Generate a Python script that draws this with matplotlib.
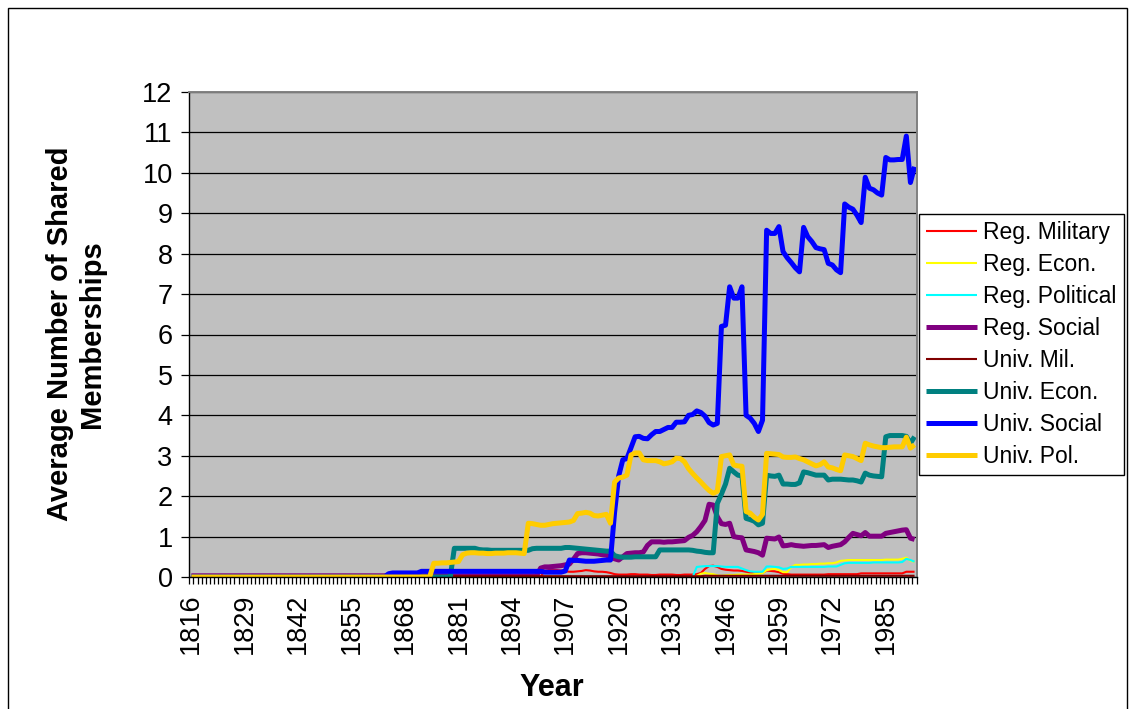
import numpy as np
import matplotlib
matplotlib.use("Agg")
import matplotlib.pyplot as plt
from matplotlib.patches import Rectangle
from matplotlib.ticker import FixedLocator, NullFormatter

plt.rcParams['font.family'] = ['Liberation Sans', 'DejaVu Sans']

# ---- data -------------------------------------------------------------
years = list(range(1816, 1993))
label_years = list(range(1816, 1993, 13))

reg_military = ([0.01] * 86
                + [0.15, 0.17, 0.17, 0.17, 0.16, 0.14, 0.13, 0.13, 0.14, 0.15,
                   0.17, 0.16, 0.14, 0.13, 0.13, 0.12, 0.10, 0.07, 0.06]
                + [0.06, 0.06, 0.07, 0.07, 0.06, 0.06, 0.06, 0.05, 0.05, 0.06,
                   0.06, 0.06, 0.06, 0.05, 0.05, 0.06, 0.06, 0.06, 0.07]
                + [0.10, 0.20, 0.27, 0.28, 0.25, 0.20, 0.18, 0.17, 0.16, 0.16,
                   0.15, 0.13, 0.11, 0.09, 0.10, 0.10, 0.16, 0.15, 0.14, 0.12,
                   0.08, 0.07]
                + [0.06] * 9 + [0.07] * 8 + [0.09] * 11 + [0.13, 0.13, 0.13])

reg_econ = ([0.0] * 123
            + [0.03, 0.08, 0.10, 0.08, 0.07, 0.04, 0.03, 0.04, 0.05, 0.05,
               0.06, 0.06, 0.06, 0.06, 0.07, 0.08, 0.09]
            + [0.17, 0.19, 0.20, 0.17, 0.12, 0.12, 0.25, 0.30, 0.30, 0.31,
               0.31, 0.32, 0.32, 0.33, 0.33, 0.34, 0.34]
            + [0.36, 0.40, 0.41, 0.42, 0.42, 0.42, 0.42, 0.42, 0.42, 0.42,
               0.42, 0.42, 0.43, 0.43, 0.43, 0.43, 0.45, 0.48, 0.40, 0.38])

reg_political = ([0.0] * 123
                 + [0.25, 0.26, 0.27, 0.27, 0.27, 0.27, 0.26, 0.25, 0.25, 0.25,
                    0.25, 0.21, 0.17, 0.14, 0.13, 0.13, 0.13]
                 + [0.26, 0.26, 0.25, 0.24, 0.20, 0.21, 0.25, 0.25, 0.25, 0.25,
                    0.25, 0.25, 0.25, 0.25, 0.25, 0.26, 0.26]
                 + [0.26, 0.30, 0.34, 0.35, 0.35, 0.35, 0.35, 0.35, 0.35, 0.36,
                    0.36, 0.36, 0.36, 0.36, 0.36, 0.36, 0.37, 0.45, 0.42, 0.38])

reg_social = ([0.03] * 85
              + [0.22, 0.25, 0.25, 0.26, 0.27, 0.28, 0.30, 0.32]
              + [0.44, 0.58, 0.60, 0.60, 0.59, 0.58, 0.57, 0.55, 0.54, 0.50,
                 0.45, 0.42]
              + [0.50, 0.58, 0.59, 0.60, 0.60, 0.62, 0.78, 0.87, 0.87, 0.87,
                 0.86, 0.87, 0.87, 0.88, 0.89, 0.90]
              + [0.98, 1.03, 1.12, 1.25, 1.40, 1.80, 1.78, 1.49, 1.32, 1.30,
                 1.33, 1.00, 0.98, 0.97]
              + [0.67, 0.65, 0.63, 0.60, 0.54]
              + [0.96, 0.95, 0.94, 0.99, 0.77, 0.78, 0.80, 0.78, 0.77, 0.76,
                 0.77, 0.78, 0.78, 0.79, 0.80]
              + [0.73, 0.76, 0.78, 0.80, 0.87, 0.98, 1.08, 1.05, 1.02, 1.10,
                 1.01, 1.01, 1.01, 1.01, 1.08, 1.10, 1.12, 1.14, 1.16, 1.17,
                 0.96, 0.93])

univ_mil = [0.0] * 64 + [0.02] * 61 + [0.03] * 52

univ_econ = ([0.0] * 64
             + [0.71] * 6
             + [0.68, 0.67, 0.67, 0.66, 0.66, 0.66, 0.66, 0.66, 0.66, 0.66,
                0.66, 0.66]
             + [0.66, 0.70]
             + [0.71] * 7
             + [0.73, 0.73, 0.72, 0.71, 0.70, 0.69, 0.68, 0.67, 0.66, 0.65,
                0.64, 0.64]
             + [0.53, 0.50, 0.49, 0.49, 0.49, 0.50, 0.50, 0.50, 0.50, 0.50,
                0.50]
             + [0.67, 0.67, 0.67, 0.67, 0.67, 0.67, 0.67, 0.67, 0.66, 0.64,
                0.63, 0.61, 0.60, 0.60]
             + [1.82, 2.05, 2.30, 2.69, 2.60, 2.52, 2.50]
             + [1.45, 1.42, 1.38, 1.29, 1.33]
             + [2.52, 2.50, 2.49, 2.52]
             + [2.30, 2.30, 2.29, 2.29, 2.33]
             + [2.60, 2.58, 2.55, 2.52, 2.52, 2.52]
             + [2.40, 2.42, 2.42, 2.42, 2.41, 2.40, 2.40, 2.38, 2.35]
             + [2.57, 2.52, 2.50, 2.49, 2.48]
             + [3.47, 3.50, 3.50, 3.50, 3.50, 3.48, 3.31, 3.47])

univ_social = ([0.0] * 48
               + [0.08]
               + [0.10] * 7
               + [0.14] * 30
               + [0.12] * 5
               + [0.15]
               + [0.42, 0.41, 0.41, 0.40, 0.39, 0.39, 0.39, 0.40, 0.41, 0.42,
                  0.42]
               + [1.60, 2.50, 2.90, 2.93, 3.20, 3.47, 3.48, 3.43, 3.42, 3.52,
                  3.60, 3.60, 3.65, 3.70, 3.70, 3.83, 3.83, 3.84, 4.00, 4.02,
                  4.11, 4.07, 3.98, 3.82, 3.76, 3.80]
               + [6.20, 6.23, 7.18, 6.90, 6.90, 7.18, 4.00, 3.93, 3.80, 3.60,
                  3.88]
               + [8.58, 8.50, 8.50, 8.67, 8.05, 7.90, 7.78, 7.65, 7.55]
               + [8.65, 8.42, 8.30, 8.15, 8.12, 8.10, 7.76, 7.72, 7.60, 7.53]
               + [9.23, 9.15, 9.10, 8.95, 8.77]
               + [9.89, 9.62, 9.58, 9.50, 9.45]
               + [10.38, 10.32, 10.32, 10.33, 10.33]
               + [10.91, 9.76, 10.15])

univ_pol = ([0.0] * 59
            + [0.34, 0.34, 0.35, 0.35, 0.36, 0.37, 0.38]
            + [0.55, 0.59]
            + [0.60, 0.60, 0.59, 0.59, 0.58, 0.58, 0.59, 0.59, 0.59, 0.60,
               0.60, 0.60, 0.59, 0.58]
            + [1.33, 1.32, 1.30, 1.28, 1.28, 1.30, 1.32, 1.33, 1.34, 1.35,
               1.36, 1.40, 1.57, 1.58, 1.60, 1.58, 1.52, 1.51, 1.53, 1.55,
               1.33]
            + [2.35, 2.45, 2.47, 2.52, 3.02, 3.07, 3.07, 2.90, 2.88, 2.88,
               2.88, 2.85, 2.80, 2.82, 2.85, 2.94, 2.93, 2.85, 2.68, 2.56,
               2.45, 2.35, 2.24, 2.14, 2.07, 2.12]
            + [2.98, 3.00, 3.02, 2.77, 2.75, 2.74, 1.62, 1.58, 1.48, 1.41,
               1.55]
            + [3.06, 3.05, 3.04, 3.03, 2.97, 2.96, 2.96, 2.97, 2.93]
            + [2.90, 2.85, 2.80, 2.75, 2.78, 2.85, 2.72, 2.70, 2.66, 2.63]
            + [3.02, 3.00, 2.98, 2.93, 2.88]
            + [3.31, 3.27, 3.24, 3.22, 3.20]
            + [3.20, 3.21, 3.22, 3.22, 3.22]
            + [3.46, 3.19, 3.27])

series = [
    ("Reg. Military", reg_military, "#FF0000", 1.5),
    ("Reg. Econ.", reg_econ, "#FFFF00", 1.5),
    ("Reg. Political", reg_political, "#00FFFF", 1.5),
    ("Reg. Social", reg_social, "#800080", 3.6),
    ("Univ. Mil.", univ_mil, "#800000", 1.5),
    ("Univ. Econ.", univ_econ, "#008080", 3.6),
    ("Univ. Social", univ_social, "#0000FF", 3.6),
    ("Univ. Pol.", univ_pol, "#FFCC00", 3.6),
]

# ---- figure -----------------------------------------------------------
W, H = 1131, 709
fig = plt.figure(figsize=(W / 100, H / 100), dpi=100)
fig.patch.set_facecolor("white")

# outer chart border
fig.patches.append(Rectangle((8 / W, -0.05), (1127 - 8) / W, 1.05 - 8 / H,
                             transform=fig.transFigure, fill=False,
                             edgecolor="black", linewidth=1.0))

left, right, top, bottom = 189.3, 916.6, 92, 577
ax = fig.add_axes([left / W, 1 - bottom / H, (right - left) / W, (bottom - top) / H])
ax.set_facecolor("#C0C0C0")

for name, vals, color, lw in series:
    ax.plot(years, vals, color=color, linewidth=lw, label=name,
            solid_joinstyle="round", solid_capstyle="butt")

ax.set_xlim(years[0] - 0.5, years[-1] + 0.5)
ax.set_ylim(0, 12)

# horizontal gridlines
ax.set_yticks(range(0, 13))
ax.yaxis.grid(True, color="black", linewidth=0.9)
ax.set_axisbelow(True)

ax.tick_params(axis="y", which="major", direction="out", length=6,
               width=0.9, color="black", labelsize=19.5, pad=6)

# category axis: tick marks between years, labels every 13 years
ax.set_xticks(label_years)
ax.set_xticklabels([str(y) for y in label_years], rotation=90)
ax.xaxis.set_minor_locator(FixedLocator(np.arange(years[0] - 0.5, years[-1] + 1, 1.0)))
ax.xaxis.set_minor_formatter(NullFormatter())
ax.tick_params(axis="x", which="major", length=0, labelsize=19.5, pad=12)
ax.tick_params(axis="x", which="minor", direction="out", length=5,
               width=0.9, color="black")

for s in ("left", "bottom"):
    ax.spines[s].set_color("black")
    ax.spines[s].set_linewidth(1.0)
for s in ("top", "right"):
    ax.spines[s].set_color("#808080")
    ax.spines[s].set_linewidth(1.4)

fig.text(552 / W, 1 - 688 / H, "Year", ha="center", va="center",
         fontsize=22, fontweight="bold")
fig.text(76 / W, 1 - 334 / H, "Average Number of Shared\nMemberships",
         ha="center", va="center", rotation=90, fontsize=21,
         fontweight="bold", multialignment="center", linespacing=1.2)

leg = ax.legend(loc="upper left", bbox_to_anchor=(919 / W, 1 - 214 / H),
                bbox_transform=fig.transFigure, borderaxespad=0,
                fontsize=16.5, frameon=True, fancybox=False, shadow=False,
                handlelength=2.2, handletextpad=0.28, labelspacing=0.39,
                borderpad=0.32)
leg.get_frame().set_edgecolor("black")
leg.get_frame().set_linewidth(1.0)
leg.get_frame().set_facecolor("white")
leg.get_frame().set_alpha(1.0)

fig.savefig("out.png", dpi=100, facecolor="white")
